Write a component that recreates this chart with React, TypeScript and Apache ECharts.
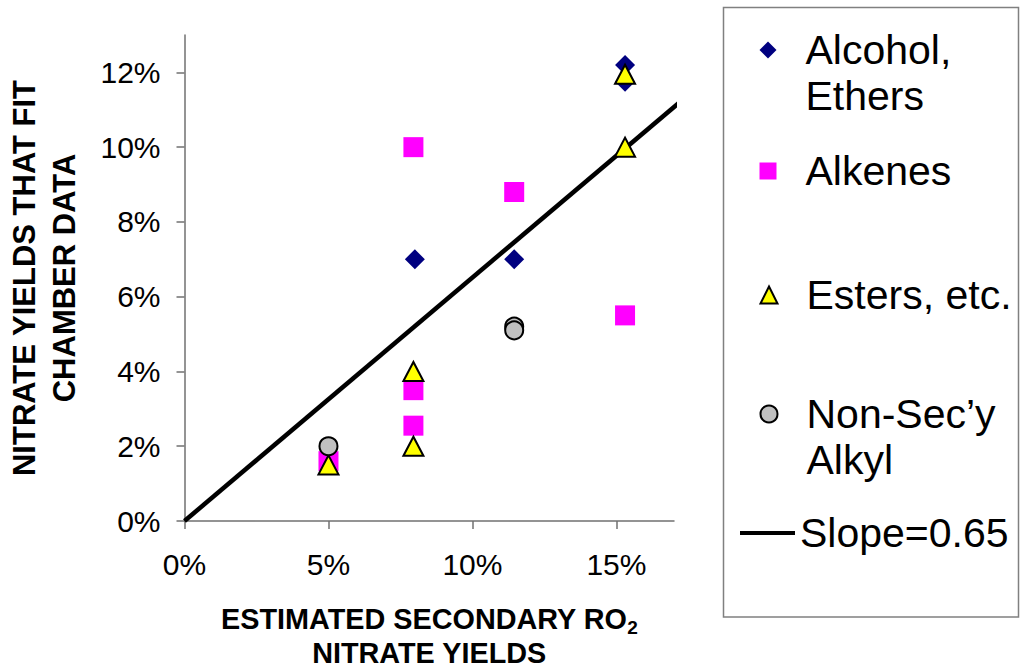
import React, { useEffect, useRef } from "react";
import * as echarts from "echarts";

// ---- data (percent units) ----
const alcoholX = [8, 11.45, 15.3, 15.3];
const alcoholY = [7, 7, 12.2, 11.75];
const alkenesX = [7.95, 11.45, 15.3, 7.95, 7.95, 5];
const alkenesY = [10, 8.8, 5.5, 3.5, 2.55, 1.6];
const estersX = [15.3, 15.3, 7.95, 7.95, 5];
const estersY = [11.95, 10, 4, 2, 1.5];
const nonSecX = [11.45, 11.45, 5];
const nonSecY = [5.2, 5.1, 2];
const slopeLineX = [0, 17.35];
const slopeLineY = [0, 11.3];

const xTicks = [0, 5, 10, 15];
const yTicks = [0, 2, 4, 6, 8, 10, 12];

const seriesNames = ["Alcohol, Ethers", "Alkenes", "Esters, etc.", "Non-Sec\u2019y Alkyl", "Slope=0.65"];
const legendLabels = ["\nAlcohol,\nEthers", "Alkenes", "Esters, etc.", "\nNon-Sec\u2019y\nAlkyl", "Slope=0.65"];

const FONT = "'Liberation Sans', Arial, Helvetica, sans-serif";

const pairs = (xs: number[], ys: number[]) => xs.map((x, i) => [x, ys[i]]);

export default function App() {
  const ref = useRef<HTMLDivElement>(null);

  useEffect(() => {
    if (!ref.current) return;
    const chart = echarts.init(ref.current, null, { renderer: "svg" });

    const LH = 46;
    const legendText = { fontSize: 41, lineHeight: LH, fontFamily: FONT, color: "#000", padding: [0, 0, 0, 24] };
    const fmt = (name: string) => legendLabels[seriesNames.indexOf(name)];
    const legendBase: any = {
      orient: "vertical",
      padding: 0,
      selectedMode: false,
      itemWidth: 17,
      itemHeight: 17,
      formatter: fmt,
      textStyle: legendText,
    };

    const axisLineStyle = { color: "#707070", width: 1.5 };
    const gridLeft = 184.5;
    const gridRight = 347;
    const plotCenterX = gridLeft + (1021 - gridRight - gridLeft) / 2;

    const option: any = {
      animation: false,
      backgroundColor: "#fff",
      grid: { left: gridLeft, right: gridRight, top: 35, bottom: 147, containLabel: false, outerBoundsMode: "none" },
      xAxis: {
        type: "value",
        min: 0,
        max: 17,
        interval: 5,
        axisLine: { show: true, lineStyle: axisLineStyle },
        axisTick: { show: true, length: 8, inside: false, lineStyle: axisLineStyle, customValues: xTicks },
        axisLabel: {
          customValues: xTicks,
          formatter: "{value}%",
          fontSize: 30,
          fontFamily: FONT,
          color: "#000",
          margin: 28,
        },
        splitLine: { show: false },
        name: "ESTIMATED SECONDARY RO{sub|2}",
        nameLocation: "middle",
        nameGap: 79,
        nameTextStyle: {
          fontSize: 28.8,
          fontWeight: "bold",
          fontFamily: FONT,
          color: "#000",
          lineHeight: 37,
          rich: {
            sub: { fontSize: 19, fontWeight: "bold", fontFamily: FONT, color: "#000", verticalAlign: "bottom", lineHeight: 19 },
          },
        },
      },
      yAxis: {
        type: "value",
        min: 0,
        max: 13,
        interval: 2,
        axisLine: { show: true, lineStyle: axisLineStyle },
        axisTick: { show: true, length: 8, inside: false, lineStyle: axisLineStyle, customValues: yTicks },
        axisLabel: {
          customValues: yTicks,
          formatter: "{value}%",
          fontSize: 30,
          fontFamily: FONT,
          color: "#000",
          margin: 24,
        },
        splitLine: { show: false },
        name: "NITRATE YIELDS THAT FIT\nCHAMBER DATA",
        nameLocation: "middle",
        nameRotate: 90,
        nameGap: 100,
        nameTextStyle: {
          fontSize: 31,
          fontWeight: "bold",
          fontFamily: FONT,
          color: "#000",
          lineHeight: 40,
        },
      },
      legend: [
        { ...legendBase, data: [seriesNames[0]], left: 759.5, top: 50 - 1.5 * LH },
        { ...legendBase, data: [seriesNames[1]], left: 759.5, top: 171 - 0.5 * LH },
        { ...legendBase, data: [seriesNames[2]], left: 759.5, top: 295 - 0.5 * LH },
        { ...legendBase, data: [seriesNames[3]], left: 759.5, top: 414 - 1.5 * LH },
        {
          ...legendBase,
          data: [{ name: seriesNames[4], icon: "rect" }],
          left: 740,
          top: 533 - 0.5 * LH,
          itemWidth: 55,
          itemHeight: 4,
          textStyle: { ...legendText, padding: [0, 0, 0, 0] },
        },
      ],
      graphic: [
        {
          type: "rect",
          z: -1,
          shape: { x: 723.5, y: 7.5, width: 295, height: 609.5 },
          style: { fill: "#fff", stroke: "#808080", lineWidth: 1.5 },
          silent: true,
        },
        {
          type: "text",
          x: plotCenterX,
          y: 653,
          silent: true,
          style: {
            text: "NITRATE YIELDS",
            align: "center",
            verticalAlign: "middle",
            fontSize: 28.8,
            fontWeight: "bold",
            fontFamily: FONT,
            fill: "#000",
            lineHeight: 26,
          },
        },
      ],
      series: [
        {
          name: seriesNames[4],
          type: "line",
          data: pairs(slopeLineX, slopeLineY),
          symbol: "none",
          clip: false,
          lineStyle: { color: "#000", width: 4.5 },
          itemStyle: { color: "#000" },
          z: 1,
        },
        {
          name: seriesNames[0],
          type: "scatter",
          data: pairs(alcoholX, alcoholY),
          symbol: "diamond",
          symbolSize: [20, 20],
          itemStyle: { color: "#000080", opacity: 1 },
          z: 2,
        },
        {
          name: seriesNames[1],
          type: "scatter",
          data: pairs(alkenesX, alkenesY),
          symbol: "rect",
          symbolSize: 20,
          itemStyle: { color: "#FF00FF", opacity: 1 },
          z: 3,
        },
        {
          name: seriesNames[2],
          type: "scatter",
          data: pairs(estersX, estersY),
          symbol: "triangle",
          symbolSize: [20, 19],
          itemStyle: { color: "#FFFF00", borderColor: "#000", borderWidth: 2, opacity: 1 },
          z: 4,
        },
        {
          name: seriesNames[3],
          type: "scatter",
          data: pairs(nonSecX, nonSecY),
          symbol: "circle",
          symbolSize: 18,
          itemStyle: { color: "#C0C0C0", borderColor: "#000", borderWidth: 2, opacity: 1 },
          z: 5,
        },
      ],
    };

    chart.setOption(option);
    return () => chart.dispose();
  }, []);

  return (
    <div
      ref={ref}
      style={{ position: "fixed", left: 0, top: 0, width: 1021, height: 668, background: "#fff" }}
    />
  );
}
